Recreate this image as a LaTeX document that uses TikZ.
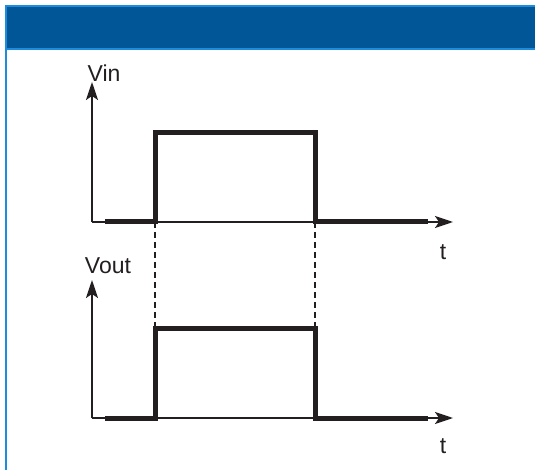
\documentclass[tikz,border=0pt]{standalone}
\usepackage{fontspec}
\setmainfont{Liberation Sans}
\usetikzlibrary{arrows.meta}
\definecolor{headblue}{RGB}{0,86,150}
\definecolor{edgeblue}{RGB}{28,140,220}
\definecolor{ink}{RGB}{35,31,32}

\begin{document}
\begin{tikzpicture}[x=1pt, y=-1pt,
    axis/.style={draw=ink, line width=2pt, -{Stealth[length=18pt,width=12pt,inset=4pt]}},
    signal/.style={draw=ink, line width=5pt, line join=miter},
    guide/.style={draw=ink, line width=1.5pt, dash pattern=on 6pt off 4pt},
    every node/.style={font=\fontsize{23}{26}\selectfont, text=ink, inner sep=0pt}]
  \useasboundingbox (0,0) rectangle (535,470);
  % Header bar and frame
  \fill[headblue, draw=edgeblue, line width=1.5pt] (6,6) rectangle (537,49);
  \draw[edgeblue, line width=2pt] (6,49) -- (6,471);

  % Input axes
  \coordinate (in0) at (92,222);
  \coordinate (intop) at (92,82);
  \coordinate (inend) at (453,222);
  \draw[axis] (in0) -- (intop);
  \draw[axis] (in0) -- (inend);
  \node (vin) at (104,73) {Vin};
  \node (tin) at (443,252) {t};
  % Input pulse
  \coordinate (instart) at (105,222);
  \coordinate (inrise) at (155,222);
  \coordinate (infall) at (315,222);
  \coordinate (instop) at (428,222);
  \draw[signal] (instart) -- (inrise) -- (155,133) -- (315,133) -- (infall) -- (instop);

  % Output axes
  \coordinate (out0) at (92,418);
  \coordinate (outtop) at (92,280);
  \coordinate (outend) at (453,418);
  \draw[axis] (out0) -- (outtop);
  \draw[axis] (out0) -- (outend);
  \node (vout) at (108,266) {Vout};
  \node (tout) at (443,446) {t};
  % Output pulse
  \coordinate (outstart) at (105,418);
  \coordinate (outrise) at (155,328);
  \coordinate (outfall) at (315,328);
  \coordinate (outstop) at (428,418);
  \draw[signal] (outstart) -- (155,418) -- (outrise) -- (outfall) -- (315,418) -- (outstop);

  % Timing guides
  \draw[guide] (inrise) -- (outrise);
  \draw[guide] (infall) -- (outfall);
\end{tikzpicture}
\end{document}
